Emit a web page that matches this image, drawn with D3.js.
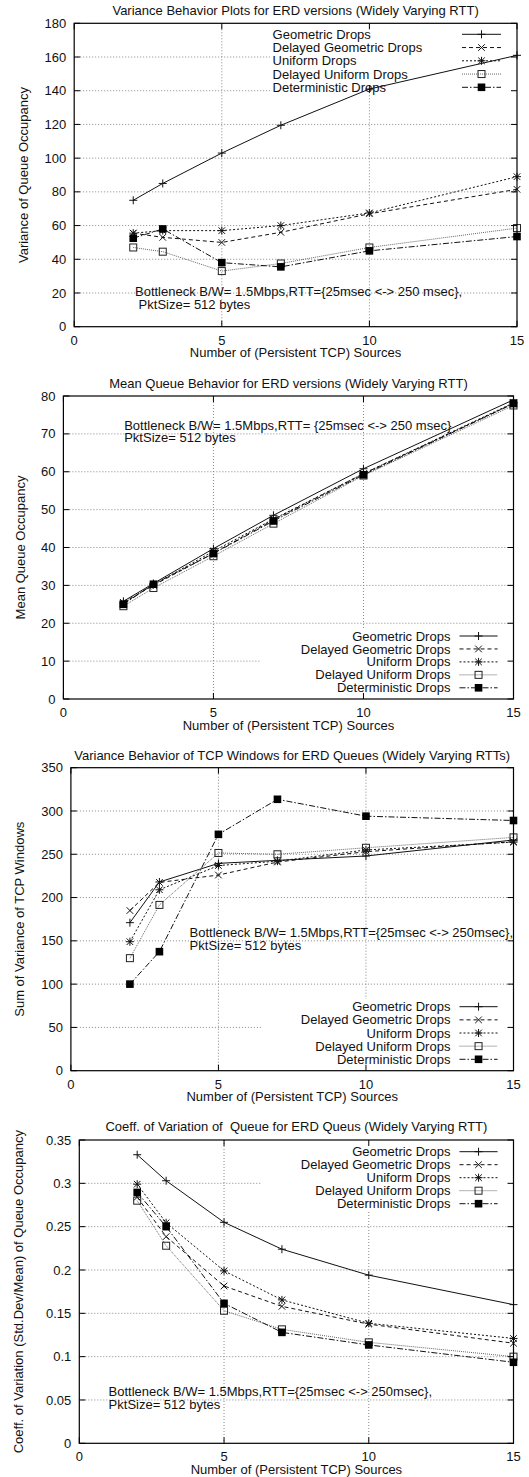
<!DOCTYPE html>
<html>
<head>
<meta charset="utf-8">
<script src="https://cdn.jsdelivr.net/npm/d3@7"></script>
<style>
  html, body { margin: 0; padding: 0; background: #fff; }
  svg { display: block; }
  text { font-family: "Liberation Sans", Arial, Helvetica, sans-serif; font-size: 13px; fill: #111; }
</style>
</head>
<body>
<svg id="fig" width="529" height="1477"></svg>
<script>
// Number of persistent TCP sources (x values shared by every plot)
const sources = [2, 3, 5, 7, 10, 15];
const seriesLabels = ["Geometric Drops", "Delayed Geometric Drops", "Uniform Drops",
                      "Delayed Uniform Drops", "Deterministic Drops"];
const xTicks = [0, 5, 10, 15];

// Variance of queue occupancy
const varQGeometric        = [75, 85, 103, 119.5, 141, 161];
const varQDelayedGeometric = [55.5, 53, 50, 56, 67, 81.5];
const varQUniform          = [55.5, 57, 57, 60, 67.5, 89];
const varQDelayedUniform   = [47, 44.5, 33, 37.5, 47, 58.5];
const varQDeterministic    = [52.5, 58, 38, 35.5, 45, 53.5];
const varQTicks = [0, 20, 40, 60, 80, 100, 120, 140, 160, 180];

// Mean queue occupancy
const meanQGeometric        = [25.8, 30.5, 39.7, 48.5, 60.8, 79];
const meanQDelayedGeometric = [25.5, 30, 38.5, 47.3, 59.5, 78];
const meanQUniform          = [25.3, 30.2, 39, 47.5, 59.5, 78.2];
const meanQDelayedUniform   = [24.5, 29.3, 37.7, 46.3, 59, 77.5];
const meanQDeterministic    = [25, 30.3, 38.4, 47, 59.2, 78];
const meanQTicks = [0, 10, 20, 30, 40, 50, 60, 70, 80];

// Sum of variance of TCP windows
const winGeometric        = [171, 218, 239.5, 243, 248, 266.5];
const winDelayedGeometric = [185, 217.5, 226, 241, 253, 264.5];
const winUniform          = [149, 209, 237, 242, 255, 264];
const winDelayedUniform   = [130, 191.5, 251.5, 250, 257.5, 269.5];
const winDeterministic    = [100, 137.5, 273, 313.5, 294, 289];
const winTicks = [0, 50, 100, 150, 200, 250, 300, 350];

// Coefficient of variation of queue occupancy
const covGeometric        = [0.333, 0.303, 0.255, 0.224, 0.194, 0.16];
const covDelayedGeometric = [0.284, 0.2385, 0.1815, 0.158, 0.1375, 0.1155];
const covUniform          = [0.299, 0.2545, 0.199, 0.1655, 0.1385, 0.121];
const covDelayedUniform   = [0.28, 0.228, 0.153, 0.1315, 0.1165, 0.1];
const covDeterministic    = [0.2895, 0.25, 0.1615, 0.128, 0.1135, 0.0935];
const covTicks = [0, 0.05, 0.1, 0.15, 0.2, 0.25, 0.3, 0.35];

// gnuplot-like monochrome line types and point types
const styles = [
  { dash: null,        color: "#111", marker: "plus"  },
  { dash: "4,3",       color: "#111", marker: "cross" },
  { dash: "2,2",       color: "#111", marker: "star"  },
  { dash: "1,1",       color: "#666", marker: "box"   },
  { dash: "6,2,1.5,2", color: "#111", marker: "fbox"  }
];

const panels = [
  {
    title: "Variance Behavior Plots for ERD versions (Widely Varying RTT)",
    ylabel: "Variance of Queue Occupancy",
    series: [varQGeometric, varQDelayedGeometric, varQUniform, varQDelayedUniform, varQDeterministic],
    yTicks: varQTicks, fmt: d => String(d),
    left: 74.2, right: 517, top: 23.3, bottom: 326.7,
    titleY: 10, ylabelX: 23.6, xTickY: 340, xLabelY: 352.7,
    legend: { align: "left", textX: 272.6, rowY: 34.3, step: 13.25, sample: [462, 501], boxLeft: 270, boxTop: 23.3, boxBottom: 93.5 },
    note: { x: 135, y: 291.7, lines: ["Bottleneck B/W= 1.5Mbps,RTT={25msec <-> 250 msec},", " PktSize= 512 bytes"] }
  },
  {
    title: "Mean Queue Behavior for ERD versions (Widely Varying RTT)",
    ylabel: "Mean Queue Occupancy",
    series: [meanQGeometric, meanQDelayedGeometric, meanQUniform, meanQDelayedUniform, meanQDeterministic],
    yTicks: meanQTicks, fmt: d => String(d),
    left: 63.4, right: 513.5, top: 396, bottom: 699,
    titleY: 383.3, ylabelX: 20.2, xTickY: 712.7, xLabelY: 725,
    legend: { align: "right", textX: 450.4, rowY: 636, step: 12.95, sample: [459.5, 497.6], boxLeft: 259.8, boxTop: 628.5, boxBottom: 699 },
    note: { x: 124.2, y: 425, lines: ["Bottleneck B/W= 1.5Mbps,RTT= {25msec <-> 250 msec}", "PktSize= 512 bytes"] }
  },
  {
    title: "Variance Behavior of TCP Windows for ERD Queues (Widely Varying RTTs)",
    ylabel: "Sum of Variance of TCP Windows",
    series: [winGeometric, winDelayedGeometric, winUniform, winDelayedUniform, winDeterministic],
    yTicks: winTicks, fmt: d => String(d),
    left: 70.9, right: 513.5, top: 767.7, bottom: 1070.7,
    titleY: 755, ylabelX: 19.6, xTickY: 1084.5, xLabelY: 1096.7,
    legend: { align: "right", textX: 450.4, rowY: 1006.7, step: 13.15, sample: [459.5, 497.6], boxLeft: 262.5, boxTop: 999, boxBottom: 1070.7 },
    note: { x: 189.6, y: 932.3, lines: ["Bottleneck B/W= 1.5Mbps,RTT={25msec <-> 250msec},", "PktSize= 512 bytes"] }
  },
  {
    title: "Coeff. of Variation of  Queue for ERD Queus (Widely Varying RTT)",
    ylabel: "Coeff. of Variation (Std.Dev/Mean) of Queue Occupancy",
    series: [covGeometric, covDelayedGeometric, covUniform, covDelayedUniform, covDeterministic],
    yTicks: covTicks, fmt: d => String(+d.toFixed(2)),
    left: 79.3, right: 513.5, top: 1140, bottom: 1443.3,
    titleY: 1126.7, ylabelX: 18.6, xTickY: 1456.7, xLabelY: 1469.3,
    legend: { align: "right", textX: 450.4, rowY: 1151.7, step: 13.0, sample: [459.5, 497.6], boxLeft: 261.5, boxTop: 1140, boxBottom: 1210.5 },
    note: { x: 108.6, y: 1391.7, lines: ["Bottleneck B/W= 1.5Mbps,RTT={25msec <-> 250msec},", "PktSize= 512 bytes"] }
  }
];

const svg = d3.select("#fig");
svg.append("rect").attr("width", 529).attr("height", 1477).attr("fill", "#fff");

function drawMarker(g, type, x, y, color) {
  const m = g.append("g").attr("transform", `translate(${x},${y})`);
  const s = 4;
  if (type === "plus" || type === "star") {
    m.append("path").attr("d", `M${-s},0H${s}M0,${-s}V${s}`)
      .attr("stroke", color).attr("stroke-width", 1).attr("fill", "none");
  }
  if (type === "cross" || type === "star") {
    const c = 3.3;
    m.append("path").attr("d", `M${-c},${-c}L${c},${c}M${-c},${c}L${c},${-c}`)
      .attr("stroke", color).attr("stroke-width", 1).attr("fill", "none");
  }
  if (type === "box") {
    m.append("rect").attr("x", -3.5).attr("y", -3.5).attr("width", 7).attr("height", 7)
      .attr("fill", "none").attr("stroke", "#222").attr("stroke-width", 1);
  }
  if (type === "fbox") {
    m.append("rect").attr("x", -3.8).attr("y", -3.8).attr("width", 7.6).attr("height", 7.6)
      .attr("fill", "#000");
  }
}

panels.forEach(p => {
  const g = svg.append("g");
  const yMax = p.yTicks[p.yTicks.length - 1];
  const x = d3.scaleLinear().domain([0, 15]).range([p.left, p.right]);
  const y = d3.scaleLinear().domain([0, yMax]).range([p.bottom, p.top]);

  // dotted grid at inner ticks
  const grid = g.append("g").attr("stroke", "#888").attr("stroke-width", 1)
    .attr("stroke-dasharray", "1,2").attr("fill", "none");
  p.yTicks.filter(t => t > 0 && t < yMax).forEach(t => {
    grid.append("line").attr("x1", p.left).attr("x2", p.right)
      .attr("y1", y(t)).attr("y2", y(t));
  });
  xTicks.filter(t => t > 0 && t < 15).forEach(t => {
    grid.append("line").attr("x1", x(t)).attr("x2", x(t))
      .attr("y1", p.top).attr("y2", p.bottom);
  });

  // key area is opaque over the grid
  const L = p.legend;
  g.append("rect").attr("x", L.boxLeft).attr("y", L.boxTop)
    .attr("width", p.right - L.boxLeft).attr("height", L.boxBottom - L.boxTop)
    .attr("fill", "#fff");

  // annotation
  p.note.lines.forEach((t, i) => {
    g.append("text").attr("x", p.note.x).attr("y", p.note.y + i * 12.8).attr("dy", "0.35em")
      .attr("xml:space", "preserve").style("white-space", "pre").text(t);
  });

  // series
  const line = d3.line().x((d, i) => x(sources[i])).y(d => y(d));
  p.series.forEach((vals, si) => {
    const st = styles[si];
    g.append("path").datum(vals).attr("d", line)
      .attr("fill", "none").attr("stroke", st.color).attr("stroke-width", 1)
      .attr("stroke-dasharray", st.dash);
    vals.forEach((v, i) => drawMarker(g, st.marker, x(sources[i]), y(v), st.color));
  });

  // border with mirrored inward ticks
  const tick = 6;
  const tk = g.append("g").attr("stroke", "#000").attr("stroke-width", 1);
  p.yTicks.forEach(t => {
    tk.append("line").attr("x1", p.left).attr("x2", p.left + tick).attr("y1", y(t)).attr("y2", y(t));
    tk.append("line").attr("x1", p.right).attr("x2", p.right - tick).attr("y1", y(t)).attr("y2", y(t));
  });
  xTicks.forEach(t => {
    tk.append("line").attr("x1", x(t)).attr("x2", x(t)).attr("y1", p.bottom).attr("y2", p.bottom - tick);
    tk.append("line").attr("x1", x(t)).attr("x2", x(t)).attr("y1", p.top).attr("y2", p.top + tick);
  });
  g.append("rect").attr("x", p.left).attr("y", p.top)
    .attr("width", p.right - p.left).attr("height", p.bottom - p.top)
    .attr("fill", "none").attr("stroke", "#000").attr("stroke-width", 1.2);

  // tick labels
  p.yTicks.forEach(t => {
    g.append("text").attr("x", p.left - 8).attr("y", y(t)).attr("dy", "0.35em")
      .attr("text-anchor", "end").text(p.fmt(t));
  });
  xTicks.forEach(t => {
    g.append("text").attr("x", x(t)).attr("y", p.xTickY).attr("dy", "0.35em")
      .attr("text-anchor", "middle").text(String(t));
  });

  // titles
  const cx = (p.left + p.right) / 2, cy = (p.top + p.bottom) / 2;
  g.append("text").attr("x", cx).attr("y", p.titleY).attr("dy", "0.35em")
    .attr("text-anchor", "middle").style("white-space", "pre").text(p.title);
  g.append("text").attr("x", cx).attr("y", p.xLabelY).attr("dy", "0.35em")
    .attr("text-anchor", "middle").text("Number of (Persistent TCP) Sources");
  g.append("text").attr("transform", `translate(${p.ylabelX},${cy}) rotate(-90)`)
    .attr("dy", "0.35em").attr("text-anchor", "middle").text(p.ylabel);

  // key
  seriesLabels.forEach((name, si) => {
    const ry = L.rowY + si * L.step;
    const st = styles[si];
    g.append("text").attr("x", L.textX).attr("y", ry).attr("dy", "0.35em")
      .attr("text-anchor", L.align === "left" ? "start" : "end").text(name);
    g.append("line").attr("x1", L.sample[0]).attr("x2", L.sample[1]).attr("y1", ry).attr("y2", ry)
      .attr("stroke", st.color).attr("stroke-width", 1).attr("stroke-dasharray", st.dash);
    drawMarker(g, st.marker, (L.sample[0] + L.sample[1]) / 2, ry, st.color);
  });
});
</script>
</body>
</html>
